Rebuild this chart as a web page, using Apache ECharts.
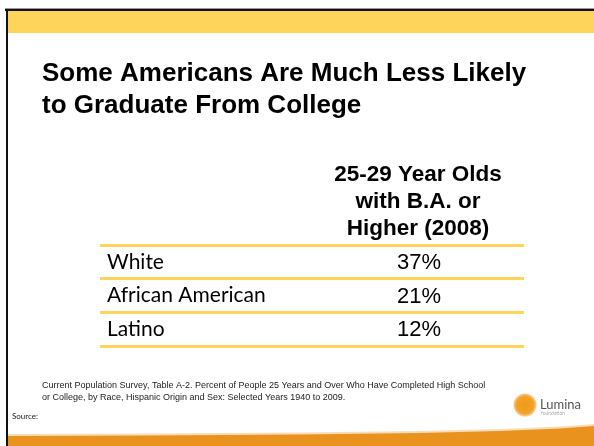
<!DOCTYPE html>
<html>
<head>
<meta charset="utf-8">
<script src="https://cdn.jsdelivr.net/npm/echarts@6/dist/echarts.min.js"></script>
<style>
  html, body { margin: 0; padding: 0; background: #fff; }
  #chart { width: 594px; height: 446px; }
</style>
</head>
<body>
<div id="chart"></div>
<script>
// Table content
const titleLines = ['Some Americans Are Much Less Likely', 'to Graduate From College'];
const columnHeader = ['25-29 Year Olds', 'with B.A. or', 'Higher (2008)'];
const groups = ['White', 'African American', 'Latino'];
const baShare = [37, 21, 12]; // percent with B.A. or higher, 2008
const sourceLines = [
  'Current Population Survey, Table A-2. Percent of People 25 Years and Over Who Have Completed High School',
  'or College, by Race, Hispanic Origin and Sex: Selected Years 1940 to 2009.'
];

const YELLOW = '#FFD45A';
const ORANGE = '#E9921E';

// footer outline: slightly rising toward the right edge
function footerPoints(offset) {
  const edge = [[8, 436], [150, 435.5], [300, 434.5], [420, 433], [500, 431], [560, 428.5], [594, 426]];
  return edge.map(p => [p[0], p[1] - offset]).concat([[594, 446], [8, 446]]);
}

const chart = echarts.init(document.getElementById('chart'), null, { renderer: 'canvas' });

chart.setOption({
  backgroundColor: '#ffffff',
  animation: false,
  title: [
    {
      text: titleLines.join('\n'),
      left: 42,
      top: 58,
      padding: 0,
      textStyle: {
        fontFamily: 'Liberation Sans, Arial, sans-serif',
        fontWeight: 'bold',
        fontSize: 26,
        lineHeight: 32,
        color: '#000'
      }
    },
    {
      text: sourceLines.join('\n'),
      left: 42,
      top: 380,
      padding: 0,
      textStyle: {
        fontFamily: 'Liberation Sans, Arial, sans-serif',
        fontWeight: 'normal',
        fontSize: 9,
        lineHeight: 12,
        color: '#222'
      }
    },
    {
      text: 'Source:',
      left: 12,
      top: 412,
      padding: 0,
      textStyle: {
        fontFamily: 'Lato, sans-serif',
        fontWeight: 'normal',
        fontSize: 8,
        color: '#222'
      }
    }
  ],
  grid: { left: 100, right: 70, top: 245, bottom: 100, containLabel: false },
  xAxis: {
    type: 'category',
    position: 'top',
    data: ['', columnHeader.join('\n')],
    axisLine: { show: false },
    axisTick: { show: false },
    splitLine: { show: false },
    axisLabel: {
      interval: 0,
      margin: 3,
      fontFamily: 'Liberation Sans, Arial, sans-serif',
      fontWeight: 'bold',
      fontSize: 22.5,
      lineHeight: 27,
      color: '#000',
      align: 'center'
    }
  },
  yAxis: {
    type: 'category',
    inverse: true,
    data: groups,
    axisLine: { show: false },
    axisTick: { show: false },
    splitLine: { show: true, lineStyle: { color: YELLOW, width: 3 } },
    axisLabel: {
      inside: true,
      margin: 7,
      fontFamily: 'Lato, sans-serif',
      fontSize: 21,
      color: '#000'
    }
  },
  series: [
    {
      type: 'scatter',
      symbolSize: 0,
      itemStyle: { opacity: 1 },
      data: groups.map((g, i) => [1, i, baShare[i]]),
      label: {
        show: true,
        position: 'inside',
        offset: [1, 1],
        formatter: p => p.value[2] + '%',
        fontFamily: 'Liberation Sans, Arial, sans-serif',
        fontSize: 22,
        color: '#000',
        opacity: 1
      }
    }
  ],
  graphic: [
    // top frame and yellow banner
    { type: 'rect', shape: { x: 5, y: 8, width: 589, height: 1 }, style: { fill: '#9a9a9a' }, silent: true },
    { type: 'rect', shape: { x: 5, y: 9, width: 589, height: 2 }, style: { fill: '#111' }, silent: true },
    { type: 'rect', shape: { x: 8, y: 11, width: 586, height: 22 }, style: { fill: YELLOW }, silent: true },
    // left frame
    { type: 'rect', shape: { x: 6, y: 9, width: 2, height: 437 }, style: { fill: '#111' }, silent: true },
    // orange footer with a soft upper edge
    { type: 'polygon', shape: { points: footerPoints(2) }, style: { fill: '#F8DDB8' }, silent: true },
    { type: 'polygon', shape: { points: footerPoints(0) }, style: { fill: ORANGE }, silent: true },
    // Lumina logo
    {
      type: 'circle',
      shape: { cx: 525, cy: 405, r: 11.5 },
      style: {
        fill: {
          type: 'radial', x: 0.5, y: 0.5, r: 0.5,
          colorStops: [
            { offset: 0, color: '#F29A18' },
            { offset: 0.75, color: '#F3A12A' },
            { offset: 1, color: '#F9D29A' }
          ]
        }
      },
      silent: true
    },
    {
      type: 'text',
      x: 540, y: 398,
      style: { text: 'Lumina', fontFamily: 'Lato, sans-serif', fontSize: 13, fill: '#555' },
      silent: true
    },
    {
      type: 'text',
      x: 541, y: 411,
      style: { text: 'foundation', fontFamily: 'Lato, sans-serif', fontSize: 5, fill: '#aaa' },
      silent: true
    }
  ]
});
</script>
</body>
</html>
